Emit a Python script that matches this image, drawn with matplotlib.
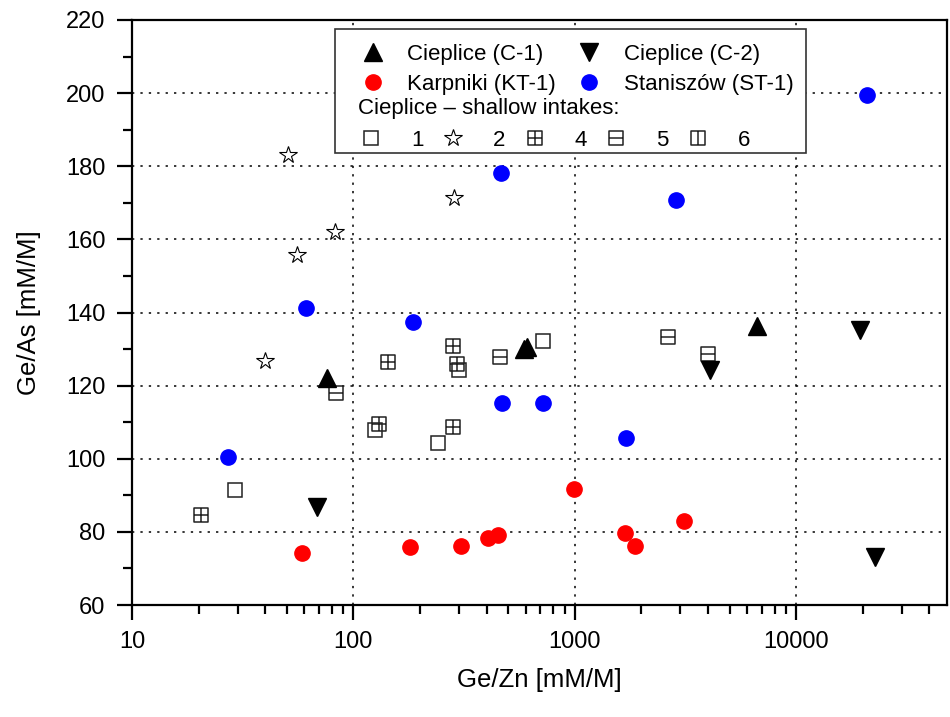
import matplotlib
matplotlib.use("Agg")
from matplotlib import pyplot as plt
from matplotlib.path import Path
from matplotlib.lines import Line2D
from matplotlib.patches import Rectangle
from matplotlib.ticker import LogLocator, MultipleLocator, FixedLocator, NullFormatter

plt.rcParams['font.family'] = ['Liberation Sans', 'DejaVu Sans']

# Cieplice deep wells
c1_x = [76, 587, 608, 6650]
c1_y = [122, 130.0, 130.7, 136.2]
c2_x = [68.8, 4080, 19500, 22600]
c2_y = [86.9, 124.3, 135.3, 73.1]

# Karpniki KT-1
kt_x = [58.5, 180, 305, 405, 448, 990, 1690, 1880, 3100]
kt_y = [74.1, 75.9, 76.2, 78.2, 79.2, 91.7, 79.8, 76.1, 82.9]

# Staniszow ST-1
st_x = [27, 61, 185, 465, 470, 720, 1710, 2860, 20900]
st_y = [100.5, 141.2, 137.5, 178.2, 115.2, 115.2, 105.7, 170.7, 199.6]

# Cieplice shallow intakes
s1_x = [29.3, 125, 240, 301, 718]
s1_y = [91.5, 108, 104.2, 124.4, 132.3]
s2_x = [50.5, 82.8, 55.9, 39.7, 285]
s2_y = [183.2, 162.1, 155.6, 126.6, 171.4]
s4_x = [20.4, 131, 144, 281, 294, 283]
s4_y = [84.5, 109.4, 126.4, 130.9, 125.9, 108.7]
s5_x = [83.2, 460, 2640, 3980]
s5_y = [117.9, 127.8, 133.2, 128.7]
s6_x = []
s6_y = []

M, L, C = Path.MOVETO, Path.LINETO, Path.CLOSEPOLY
box = [(-1, -1), (1, -1), (1, 1), (-1, 1), (-1, -1)]
boxc = [M, L, L, L, C]
sq_cross = Path(box + [(0, -1), (0, 1), (-1, 0), (1, 0)], boxc + [M, L, M, L])
sq_hline = Path(box + [(-1, 0), (1, 0)], boxc + [M, L])
sq_vline = Path(box + [(0, -1), (0, 1)], boxc + [M, L])

fig = plt.figure(figsize=(9.5, 7.17), dpi=100)
ax = fig.add_axes([132 / 950, 1 - 605 / 717, 815 / 950, 585 / 717])

open_kw = dict(ls='none', mfc='none', mec='#222222', mew=1.1, ms=9.5)
star_kw = dict(ls='none', mfc='white', mec='k', mew=0.8, ms=13)
ax.plot(s1_x, s1_y, marker='s', **open_kw)
ax.plot(s4_x, s4_y, marker=sq_cross, **open_kw)
ax.plot(s5_x, s5_y, marker=sq_hline, **open_kw)
ax.plot(s6_x, s6_y, marker=sq_vline, **open_kw)
ax.plot(s2_x, s2_y, marker='*', **star_kw)
ax.plot(kt_x, kt_y, marker='o', ls='none', color='#ff0000', ms=11)
ax.plot(st_x, st_y, marker='o', ls='none', color='#0000ff', ms=11)
ax.plot(c1_x, c1_y, marker='^', ls='none', color='k', ms=12.5)
ax.plot(c2_x, c2_y, marker='v', ls='none', color='k', ms=12.5)

ax.set_xscale('log')
ax.set_xlim(10, 48000)
ax.set_ylim(60, 220)
ax.xaxis.set_major_locator(FixedLocator([10, 100, 1000, 10000]))
ax.xaxis.set_major_formatter(plt.FuncFormatter(lambda v, p: '%d' % v))
ax.xaxis.set_minor_locator(LogLocator(base=10, subs=range(2, 10)))
ax.xaxis.set_minor_formatter(NullFormatter())
ax.yaxis.set_major_locator(MultipleLocator(20))
ax.yaxis.set_minor_locator(MultipleLocator(10))

ax.grid(True, which='major', color='k', ls=(0, (1.5, 4)), lw=1.1)
ax.set_axisbelow(True)
for s in ax.spines.values():
    s.set_linewidth(1.6)
ax.tick_params(which='major', direction='out', length=11, width=1.6, labelsize=17, pad=8)
ax.tick_params(which='minor', direction='out', length=6.5, width=1.6)

ax.set_xlabel('Ge/Zn [mM/M]', fontsize=18.5)
ax.set_ylabel('Ge/As [mM/M]', fontsize=18.5)
ax.xaxis.label.set_va('center')
ax.yaxis.label.set_va('center')
ax.xaxis.set_label_coords(0.5, -(680 - 605) / 585)
ax.yaxis.set_label_coords(-(132 - 29) / 815, 0.5)

# legend frame + two legends inside it
frame = Rectangle((0.249, 0.7726), 0.578, 0.212, transform=ax.transAxes,
                  facecolor='white', edgecolor='#333333', lw=1.2, zorder=4)
ax.add_patch(frame)

h_c1 = Line2D([], [], marker='^', ls='none', color='k', ms=12.5)
h_c2 = Line2D([], [], marker='v', ls='none', color='k', ms=12.5)
h_kt = Line2D([], [], marker='o', ls='none', color='#ff0000', ms=11)
h_st = Line2D([], [], marker='o', ls='none', color='#0000ff', ms=11)
leg1 = ax.legend([h_c1, h_kt, h_c2, h_st],
                 ['Cieplice (C-1)', 'Karpniki (KT-1)', 'Cieplice (C-2)', 'Staniszów (ST-1)'],
                 ncol=2, loc='upper left', bbox_to_anchor=(0.268, 0.974), frameon=False,
                 fontsize=16, handlelength=1.2, handletextpad=0.95, columnspacing=0.9,
                 labelspacing=0.38, borderaxespad=0)
leg1.set_zorder(5)
ax.add_artist(leg1)

h1 = Line2D([], [], marker='s', **open_kw)
h2 = Line2D([], [], marker='*', **star_kw)
h4 = Line2D([], [], marker=sq_cross, **open_kw)
h5 = Line2D([], [], marker=sq_hline, **open_kw)
h6 = Line2D([], [], marker=sq_vline, **open_kw)
leg2 = ax.legend([h1, h2, h4, h5, h6], ['1', '2', '4', '5', '6'],
                 ncol=5, loc='upper left', bbox_to_anchor=(0.266, 0.882), frameon=False,
                 fontsize=16, title='Cieplice – shallow intakes:', title_fontsize=16,
                 alignment='left', handlelength=1.2, handletextpad=1.2, columnspacing=0.72,
                 borderaxespad=0)
leg2.set_zorder(5)

fig.savefig('out.png', dpi=100, facecolor='white')
